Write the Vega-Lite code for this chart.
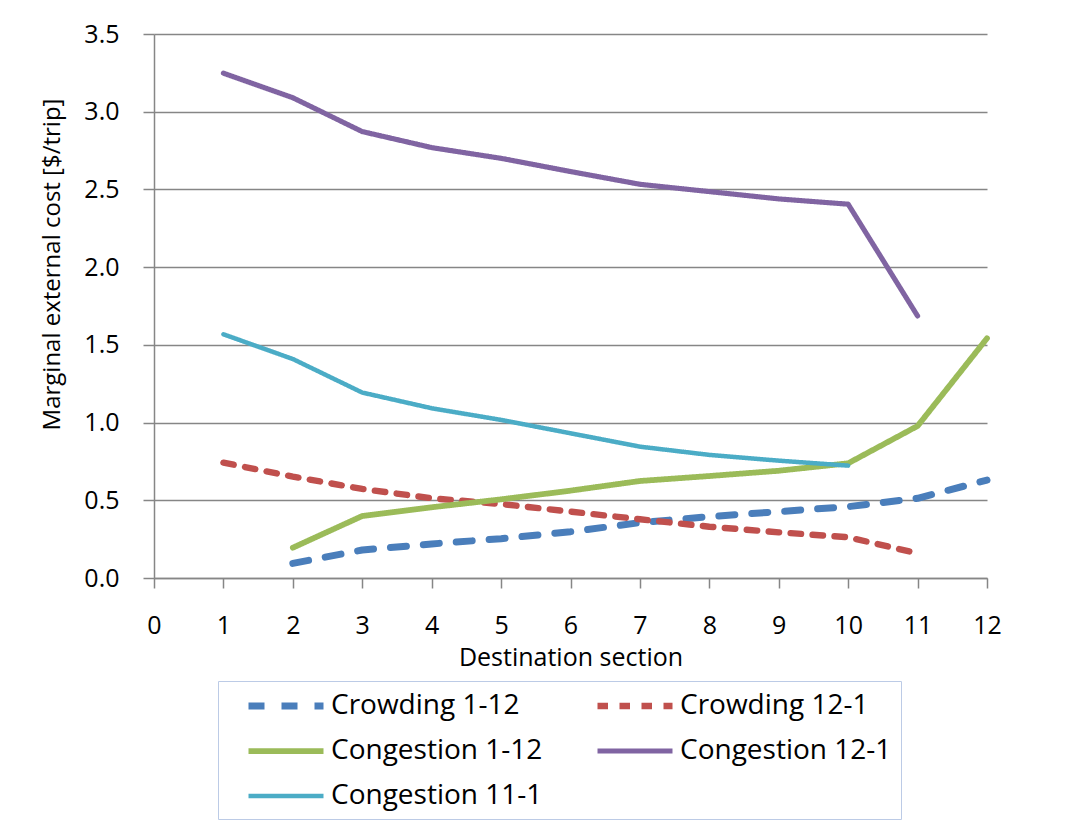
{
  "$schema": "https://vega.github.io/schema/vega-lite/v6.json",
  "autosize": {"type": "none"},
  "width": 833,
  "height": 544,
  "padding": {"left": 154, "top": 34, "right": 83, "bottom": 248},
  "background": "white",
  "config": {
    "font": "Open Sans",
    "view": {"stroke": null},
    "axis": {
      "domainColor": "#868686",
      "domainWidth": 1.5,
      "tickColor": "#868686",
      "tickWidth": 1.5,
      "gridColor": "#868686",
      "gridWidth": 1.5,
      "labelColor": "black",
      "titleColor": "black",
      "titleFontWeight": "normal"
    }
  },
  "data": {
    "values": [
      {"series": "Crowding 1-12", "section": 2, "cost": 0.094},
      {"series": "Crowding 1-12", "section": 3, "cost": 0.18},
      {"series": "Crowding 1-12", "section": 4, "cost": 0.219},
      {"series": "Crowding 1-12", "section": 5, "cost": 0.253},
      {"series": "Crowding 1-12", "section": 6, "cost": 0.298},
      {"series": "Crowding 1-12", "section": 7, "cost": 0.356},
      {"series": "Crowding 1-12", "section": 8, "cost": 0.395},
      {"series": "Crowding 1-12", "section": 9, "cost": 0.427},
      {"series": "Crowding 1-12", "section": 10, "cost": 0.459},
      {"series": "Crowding 1-12", "section": 11, "cost": 0.513},
      {"series": "Crowding 1-12", "section": 12, "cost": 0.63},
      {"series": "Crowding 12-1", "section": 1, "cost": 0.742},
      {"series": "Crowding 12-1", "section": 2, "cost": 0.652},
      {"series": "Crowding 12-1", "section": 3, "cost": 0.573},
      {"series": "Crowding 12-1", "section": 4, "cost": 0.513},
      {"series": "Crowding 12-1", "section": 5, "cost": 0.476},
      {"series": "Crowding 12-1", "section": 6, "cost": 0.427},
      {"series": "Crowding 12-1", "section": 7, "cost": 0.378},
      {"series": "Crowding 12-1", "section": 8, "cost": 0.33},
      {"series": "Crowding 12-1", "section": 9, "cost": 0.294},
      {"series": "Crowding 12-1", "section": 10, "cost": 0.262},
      {"series": "Crowding 12-1", "section": 11, "cost": 0.159},
      {"series": "Congestion 1-12", "section": 2, "cost": 0.195},
      {"series": "Congestion 1-12", "section": 3, "cost": 0.399},
      {"series": "Congestion 1-12", "section": 4, "cost": 0.455},
      {"series": "Congestion 1-12", "section": 5, "cost": 0.506},
      {"series": "Congestion 1-12", "section": 6, "cost": 0.562},
      {"series": "Congestion 1-12", "section": 7, "cost": 0.624},
      {"series": "Congestion 1-12", "section": 8, "cost": 0.656},
      {"series": "Congestion 1-12", "section": 9, "cost": 0.69},
      {"series": "Congestion 1-12", "section": 10, "cost": 0.738},
      {"series": "Congestion 1-12", "section": 11, "cost": 0.978},
      {"series": "Congestion 1-12", "section": 12, "cost": 1.542},
      {"series": "Congestion 12-1", "section": 1, "cost": 3.248},
      {"series": "Congestion 12-1", "section": 2, "cost": 3.09},
      {"series": "Congestion 12-1", "section": 3, "cost": 2.872},
      {"series": "Congestion 12-1", "section": 4, "cost": 2.769},
      {"series": "Congestion 12-1", "section": 5, "cost": 2.7},
      {"series": "Congestion 12-1", "section": 6, "cost": 2.615},
      {"series": "Congestion 12-1", "section": 7, "cost": 2.533},
      {"series": "Congestion 12-1", "section": 8, "cost": 2.486},
      {"series": "Congestion 12-1", "section": 9, "cost": 2.439},
      {"series": "Congestion 12-1", "section": 10, "cost": 2.405},
      {"series": "Congestion 12-1", "section": 11, "cost": 1.686},
      {"series": "Congestion 11-1", "section": 1, "cost": 1.568},
      {"series": "Congestion 11-1", "section": 2, "cost": 1.409},
      {"series": "Congestion 11-1", "section": 3, "cost": 1.193},
      {"series": "Congestion 11-1", "section": 4, "cost": 1.092},
      {"series": "Congestion 11-1", "section": 5, "cost": 1.017},
      {"series": "Congestion 11-1", "section": 6, "cost": 0.931},
      {"series": "Congestion 11-1", "section": 7, "cost": 0.845},
      {"series": "Congestion 11-1", "section": 8, "cost": 0.792},
      {"series": "Congestion 11-1", "section": 9, "cost": 0.755},
      {"series": "Congestion 11-1", "section": 10, "cost": 0.723}
    ]
  },
  "mark": {"type": "line", "strokeCap": "round", "strokeJoin": "round", "clip": false},
  "encoding": {
    "x": {
      "field": "section",
      "type": "quantitative",
      "scale": {"domain": [0, 12], "nice": false, "zero": false},
      "axis": {
        "title": "Destination section",
        "values": [0, 1, 2, 3, 4, 5, 6, 7, 8, 9, 10, 11, 12],
        "format": "d",
        "grid": false,
        "tickSize": 10,
        "labelPadding": 25,
        "labelFontSize": 25,
        "labelFlush": false,
        "titleFontSize": 25,
        "titlePadding": 7
      }
    },
    "y": {
      "field": "cost",
      "type": "quantitative",
      "scale": {"domain": [0, 3.5], "nice": false},
      "axis": {
        "title": "Marginal external cost [$/trip]",
        "values": [0, 0.5, 1, 1.5, 2, 2.5, 3, 3.5],
        "format": ".1f",
        "grid": true,
        "tickSize": 11,
        "labelPadding": 24,
        "labelFontSize": 25,
        "labelFlush": false,
        "titleFontSize": 24,
        "titleAngle": -90,
        "titleAlign": "center",
        "titleBaseline": "middle",
        "titleX": -102,
        "titleY": 230
      }
    },
    "color": {
      "field": "series",
      "type": "nominal",
      "scale": {
        "domain": ["Crowding 1-12", "Crowding 12-1", "Congestion 1-12", "Congestion 12-1", "Congestion 11-1"],
        "range": ["#4a7ebb", "#c0504d", "#9bbb59", "#8064a2", "#4bacc6"]
      },
      "legend": {
        "title": null,
        "orient": "none",
        "legendX": 64,
        "legendY": 647,
        "direction": "horizontal",
        "columns": 2,
        "fillColor": "white",
        "strokeColor": "#bccbe6",
        "padding": 9,
        "symbolType": "M-3,0H3",
        "symbolSize": 625,
        "symbolOffset": 43,
        "labelOffset": 29,
        "labelFontSize": 28,
        "labelColor": "black",
        "labelLimit": 400,
        "rowPadding": 15.5,
        "columnPadding": 33
      }
    },
    "strokeDash": {
      "field": "series",
      "type": "nominal",
      "scale": {
        "domain": ["Crowding 1-12", "Crowding 12-1", "Congestion 1-12", "Congestion 12-1", "Congestion 11-1"],
        "range": [[16, 17], [10.5, 11.5], [1, 0], [1, 0], [1, 0]]
      }
    },
    "strokeWidth": {
      "field": "series",
      "type": "nominal",
      "scale": {
        "domain": ["Crowding 1-12", "Crowding 12-1", "Congestion 1-12", "Congestion 12-1", "Congestion 11-1"],
        "range": [7, 4.5, 7, 3.5, 5]
      }
    }
  }
}
